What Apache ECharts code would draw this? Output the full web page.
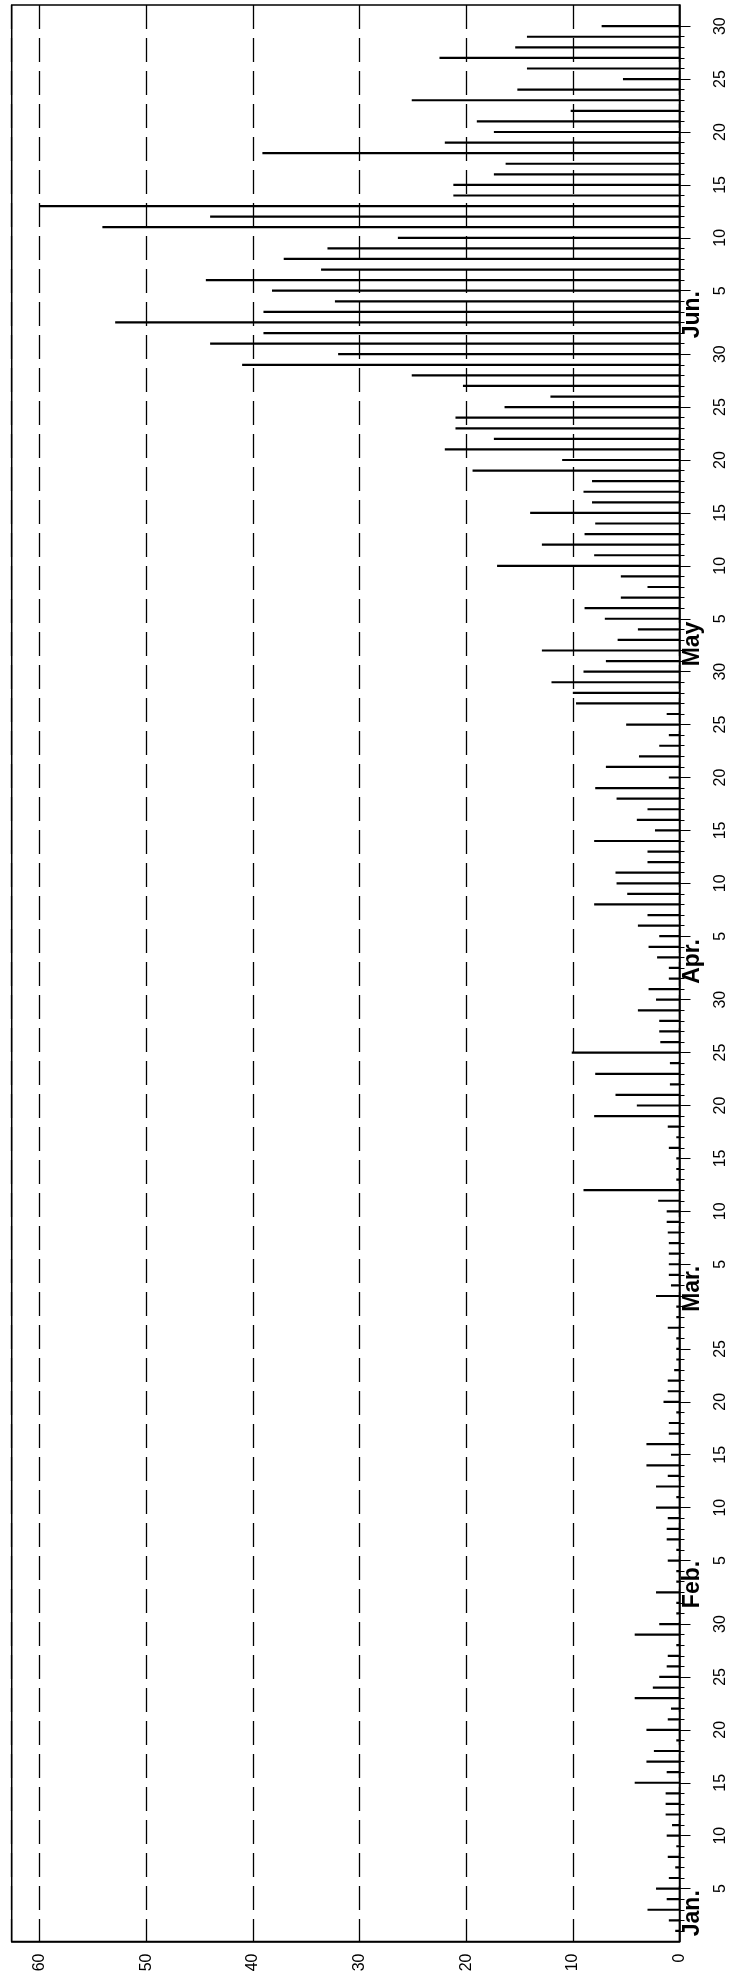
<!DOCTYPE html>
<html>
<head>
<meta charset="utf-8">
<script src="https://cdn.jsdelivr.net/npm/echarts@6/dist/echarts.min.js"></script>
<style>
html,body{margin:0;padding:0;background:#fff;}
#chart{width:730px;height:1975px;}
</style>
</head>
<body>
<div id="chart"></div>
<script>
// ---- data (daily values, Jan 1 .. Jun 30) ----
const monthNames = ['Jan.', 'Feb.', 'Mar.', 'Apr.', 'May', 'Jun.'];
const jan = [0.4, 1.0, 3.0, 1.2, 2.2, 1.0, 0.4, 1.1, 0.3, 1.2, 0.7, 1.3, 1.3, 1.3, 4.2, 1.2, 3.1, 2.4, 0.3, 3.1, 1.1, 0.8, 4.2, 2.5, 1.9, 1.2, 1.1, 0.3, 4.2, 1.9, 0.3];
const feb = [0.3, 2.2, 0.3, 0.3, 1.1, 0.3, 1.2, 1.2, 1.1, 2.2, 0.3, 2.2, 1.1, 3.1, 0.8, 3.1, 1.0, 1.0, 0.3, 1.5, 1.1, 1.1, 0.5, 0.3, 0.3, 0.3, 1.1, 0.3];
const mar = [0.3, 2.2, 0.8, 1.0, 1.0, 1.0, 1.0, 1.1, 1.2, 1.2, 2.0, 9.0, 0.3, 0.3, 0.3, 1.0, 0.3, 1.1, 8.0, 4.0, 6.0, 0.9, 7.9, 0.9, 10.1, 1.8, 1.9, 1.9, 3.9, 2.2, 2.9];
const apr = [1.0, 1.0, 2.1, 2.9, 1.9, 3.9, 3.0, 8.0, 4.9, 5.9, 6.0, 3.0, 3.0, 8.0, 2.3, 4.0, 3.0, 5.9, 7.9, 1.0, 6.9, 3.8, 1.9, 1.0, 5.0, 1.2, 9.7, 10.0, 12.0, 9.0];
const may = [6.9, 12.9, 5.8, 3.9, 7.0, 8.9, 5.5, 3.0, 5.5, 17.1, 8.0, 12.9, 8.9, 7.9, 14.0, 8.2, 9.0, 8.2, 19.4, 11.0, 22.0, 17.4, 21.0, 21.0, 16.4, 12.1, 20.3, 25.1, 41.0, 32.0, 44.0];
const jun = [39.0, 52.9, 39.0, 32.3, 38.2, 44.4, 33.6, 37.1, 33.0, 26.4, 54.1, 44.0, 60.0, 21.2, 21.2, 17.4, 16.3, 39.1, 22.0, 17.4, 19.0, 10.2, 25.1, 15.2, 5.3, 14.3, 22.5, 15.4, 14.3, 7.3];
const valueTicks = [0, 10, 20, 30, 40, 50, 60];

// ---- build day-of-year table ----
const months = [jan, feb, mar, apr, may, jun];
const dayOfMonth = {};
const monthStart = [];
const seriesData = [];
let doy = 0;
months.forEach(function (arr) {
  monthStart.push(doy + 1);
  arr.forEach(function (v, i) {
    doy++;
    dayOfMonth[doy] = i + 1;
    seriesData.push([v, doy]);
  });
});
const allDays = seriesData.map(function (d) { return d[1]; });
const fiveDays = allDays.filter(function (d) { return dayOfMonth[d] % 5 === 0; });
const monthLabelPos = monthStart.map(function (d) { return d - 0.5; });

const FONT = 'Liberation Sans, Arial, sans-serif';
const chart = echarts.init(document.getElementById('chart'), null, { renderer: 'canvas' });

chart.setOption({
  animation: false,
  backgroundColor: '#fff',
  grid: {
    left: 11.7, right: 50.5, top: 5, bottom: 33.5,
    show: true, borderColor: '#000', borderWidth: 1.5, backgroundColor: 'transparent'
  },
  xAxis: {
    type: 'value', min: 0, max: 62.6, interval: 10, inverse: true, position: 'bottom',
    axisLine: { show: true, onZero: false, lineStyle: { color: '#000', width: 1.5 } },
    axisTick: { show: false },
    axisLabel: {
      show: true, rotate: 90, margin: 12, fontSize: 16, color: '#000', fontFamily: FONT,
      customValues: valueTicks,
      formatter: function (v) { return valueTicks.indexOf(v) >= 0 ? String(v) : ''; }
    },
    splitLine: { show: true, lineStyle: { color: '#000', width: 1.3, type: [24, 9] } }
  },
  yAxis: [
    {
      type: 'value', min: 0, max: 183, position: 'right',
      axisLine: { show: true, onZero: false, lineStyle: { color: '#000', width: 1.5 } },
      axisTick: { show: true, customValues: allDays, length: 5, lineStyle: { color: '#000', width: 1 } },
      axisLabel: {
        show: true, customValues: fiveDays, rotate: 90, margin: 33, fontSize: 16,
        color: '#000', fontFamily: FONT,
        formatter: function (v) { return dayOfMonth[v] ? String(dayOfMonth[v]) : ''; }
      },
      splitLine: { show: false }
    },
    {
      type: 'value', min: 0, max: 183, position: 'right',
      axisLine: { show: false, onZero: false },
      axisTick: { show: true, customValues: fiveDays, length: 11, lineStyle: { color: '#000', width: 1 } },
      axisLabel: {
        show: true, customValues: monthLabelPos, rotate: 90, margin: 2, align: 'left',
        fontSize: 23, fontWeight: 'bold', color: '#000', fontFamily: FONT,
        formatter: function (v) {
          const i = monthLabelPos.indexOf(v);
          return i >= 0 ? monthNames[i] : '';
        }
      },
      splitLine: { show: false }
    }
  ],
  series: [{
    type: 'custom',
    xAxisIndex: 0, yAxisIndex: 0,
    data: seriesData,
    encode: { x: 0, y: 1 },
    clip: true,
    silent: true,
    renderItem: function (params, api) {
      const v = api.value(0), d = api.value(1);
      const p0 = api.coord([0, d]);
      const p1 = api.coord([v, d]);
      return {
        type: 'rect',
        shape: { x: Math.min(p0[0], p1[0]), y: p0[1] - 1.1, width: Math.abs(p0[0] - p1[0]), height: 2.2 },
        style: { fill: '#000' }
      };
    }
  }]
});
</script>
</body>
</html>
